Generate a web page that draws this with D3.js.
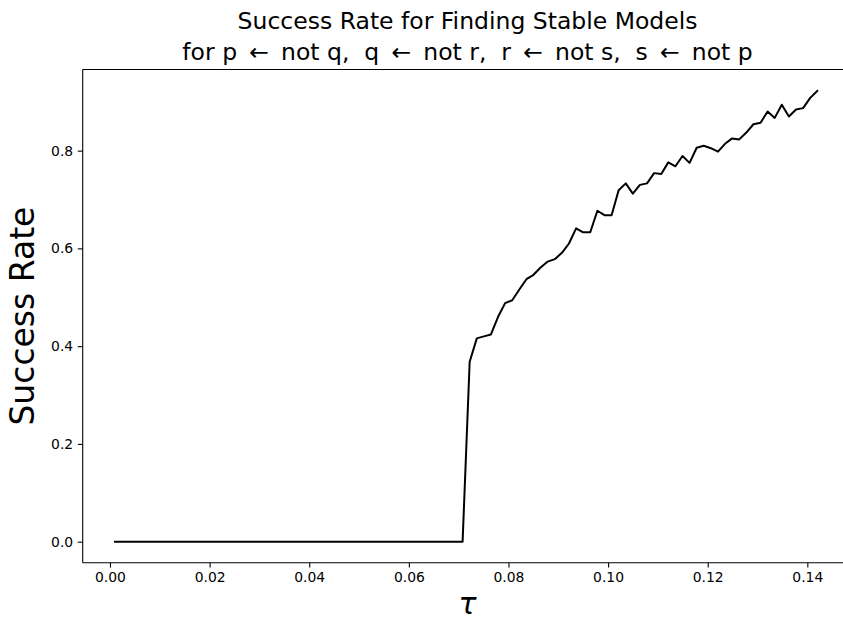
<!DOCTYPE html>
<html>
<head>
<meta charset="utf-8">
<script src="https://cdn.jsdelivr.net/npm/d3@7"></script>
<style>
  html, body { margin: 0; padding: 0; background: #fff; }
  svg { display: block; font-family: "DejaVu Sans", sans-serif; }
</style>
</head>
<body>
<svg id="chart" width="843" height="621"></svg>
<script>
// Threshold values (tau) at which the success rate was sampled
const tau = [
  0.00100, 0.00242, 0.00385, 0.00527, 0.00670, 0.00812, 0.00955, 0.01097, 0.01239, 0.01382,
  0.01524, 0.01667, 0.01809, 0.01952, 0.02094, 0.02236, 0.02379, 0.02521, 0.02664, 0.02806,
  0.02948, 0.03091, 0.03233, 0.03376, 0.03518, 0.03661, 0.03803, 0.03945, 0.04088, 0.04230,
  0.04373, 0.04515, 0.04658, 0.04800, 0.04942, 0.05085, 0.05227, 0.05370, 0.05512, 0.05655,
  0.05797, 0.05939, 0.06082, 0.06224, 0.06367, 0.06509, 0.06652, 0.06794, 0.06936, 0.07079,
  0.07221, 0.07364, 0.07506, 0.07648, 0.07791, 0.07933, 0.08076, 0.08218, 0.08361, 0.08503,
  0.08645, 0.08788, 0.08930, 0.09073, 0.09215, 0.09358, 0.09500, 0.09642, 0.09785, 0.09927,
  0.10070, 0.10212, 0.10355, 0.10497, 0.10639, 0.10782, 0.10924, 0.11067, 0.11209, 0.11352,
  0.11494, 0.11636, 0.11779, 0.11921, 0.12064, 0.12206, 0.12348, 0.12491, 0.12633, 0.12776,
  0.12918, 0.13061, 0.13203, 0.13345, 0.13488, 0.13630, 0.13773, 0.13915, 0.14058, 0.14200
];

// Fraction of runs that found a stable model at each tau
const successRate = [
  0, 0, 0, 0, 0, 0, 0, 0, 0, 0,
  0, 0, 0, 0, 0, 0, 0, 0, 0, 0,
  0, 0, 0, 0, 0, 0, 0, 0, 0, 0,
  0, 0, 0, 0, 0, 0, 0, 0, 0, 0,
  0, 0, 0, 0, 0, 0, 0, 0, 0, 0,
  0.368, 0.416, 0.420, 0.424, 0.460, 0.488, 0.494, 0.516, 0.537, 0.546,
  0.561, 0.573, 0.578, 0.591, 0.610, 0.641, 0.633, 0.633, 0.677, 0.668,
  0.668, 0.719, 0.733, 0.712, 0.730, 0.733, 0.754, 0.752, 0.776, 0.768,
  0.789, 0.775, 0.806, 0.810, 0.805, 0.798, 0.814, 0.825, 0.823, 0.837,
  0.854, 0.857, 0.880, 0.867, 0.894, 0.870, 0.884, 0.887, 0.908, 0.922
];

const xTicks = [0.00, 0.02, 0.04, 0.06, 0.08, 0.10, 0.12, 0.14];
const yTicks = [0.0, 0.2, 0.4, 0.6, 0.8];

// Arrows get a thin space on each side, as a math relation would
const arrow = "\u2009\u2190\u2009";
const titleLines = [
  "Success Rate for Finding Stable Models",
  `for p ${arrow} not q,  q ${arrow} not r,  r ${arrow} not s,  s ${arrow} not p`
];
const xLabel = "\u03C4";
const yLabel = "Success Rate";

// Layout
const plot = { left: 82.7, right: 852.4, top: 69.5, bottom: 562.7 };
const xDomain = [-0.00548, 0.14905];
const yDomain = [-0.043, 0.966];

const svg = d3.select("#chart");

const x = d3.scaleLinear().domain(xDomain).range([plot.left, plot.right]);
const y = d3.scaleLinear().domain(yDomain).range([plot.bottom, plot.top]);

const points = tau.map((t, i) => ({ t, v: successRate[i] }));

// Data line
svg.append("path")
  .datum(points)
  .attr("fill", "none")
  .attr("stroke", "#000")
  .attr("stroke-width", 2)
  .attr("stroke-linejoin", "round")
  .attr("stroke-linecap", "square")
  .attr("d", d3.line().x(d => x(d.t)).y(d => y(d.v)));

// Axes
const tickLen = 4.9;
const xAxis = svg.append("g")
  .attr("transform", `translate(0,${plot.bottom})`)
  .call(d3.axisBottom(x).tickValues(xTicks).tickFormat(d3.format(".2f"))
    .tickSize(tickLen).tickPadding(4.4).tickSizeOuter(0));
const yAxis = svg.append("g")
  .attr("transform", `translate(${plot.left},0)`)
  .call(d3.axisLeft(y).tickValues(yTicks).tickFormat(d3.format(".1f"))
    .tickSize(tickLen).tickPadding(4.6).tickSizeOuter(0));

[xAxis, yAxis].forEach(g => {
  g.select(".domain").remove();
  g.selectAll(".tick line").attr("stroke", "#000").attr("stroke-width", 1.1);
  g.selectAll(".tick text")
    .attr("fill", "#000")
    .style("font-family", "'DejaVu Sans', sans-serif")
    .style("font-size", "13.9px");
});

// Frame
const frame = svg.append("g").attr("stroke", "#000").attr("stroke-width", 1.1);
frame.append("line").attr("x1", plot.left).attr("x2", plot.right).attr("y1", plot.top).attr("y2", plot.top);
frame.append("line").attr("x1", plot.left).attr("x2", plot.right).attr("y1", plot.bottom).attr("y2", plot.bottom);
frame.append("line").attr("x1", plot.left).attr("x2", plot.left).attr("y1", plot.top).attr("y2", plot.bottom);
frame.append("line").attr("x1", plot.right).attr("x2", plot.right).attr("y1", plot.top).attr("y2", plot.bottom);

// Title
const cx = (plot.left + plot.right) / 2;
svg.append("g")
  .selectAll("text")
  .data(titleLines)
  .join("text")
  .attr("x", cx)
  .attr("y", (d, i) => 29 + i * 30.5)
  .attr("text-anchor", "middle")
  .attr("fill", "#000")
  .style("font-size", "23.5px")
  .style("white-space", "pre")
  .text(d => d);

// Axis labels
svg.append("text")
  .attr("x", cx)
  .attr("y", 614)
  .attr("text-anchor", "middle")
  .attr("fill", "#000")
  .style("font-size", "30px")
  .style("font-style", "italic")
  .text(xLabel);

svg.append("text")
  .attr("transform", `translate(33.5,${(plot.top + plot.bottom) / 2}) rotate(-90)`)
  .attr("text-anchor", "middle")
  .attr("fill", "#000")
  .style("font-size", "33px")
  .text(yLabel);
</script>
</body>
</html>
